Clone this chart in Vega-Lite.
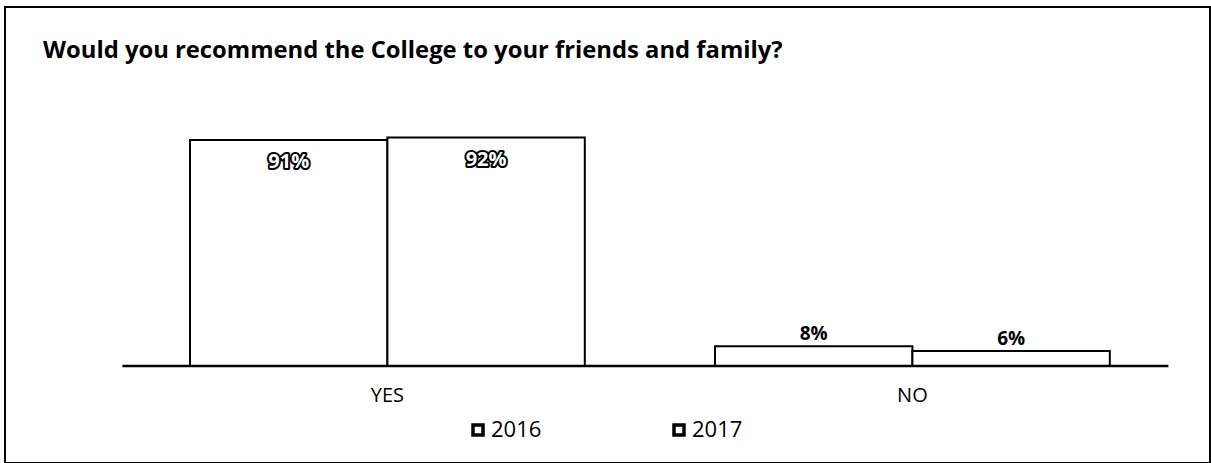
{
  "$schema": "https://vega.github.io/schema/vega-lite/v6.json",
  "autosize": "none",
  "width": 1205,
  "height": 456,
  "padding": {"left": 5, "top": 7, "right": 1, "bottom": 0},
  "background": "white",
  "config": {
    "view": {"stroke": "black", "strokeWidth": 2},
    "font": "Open Sans"
  },
  "title": {
    "text": "Would you recommend the College to your friends and family?",
    "anchor": "start",
    "frame": "group",
    "orient": "top",
    "baseline": "top",
    "offset": -56,
    "dx": 38,
    "font": "Open Sans",
    "fontSize": 23.8,
    "fontWeight": "bold",
    "color": "black"
  },
  "data": {
    "values": [
      {"answer": "YES", "year": "2016", "pct": 0.91},
      {"answer": "YES", "year": "2017", "pct": 0.92},
      {"answer": "NO", "year": "2016", "pct": 0.08},
      {"answer": "NO", "year": "2017", "pct": 0.06}
    ]
  },
  "encoding": {
    "x": {
      "field": "answer",
      "type": "nominal",
      "sort": ["YES", "NO"],
      "scale": {"domain": ["YES", "NO"], "paddingInner": 0.248, "paddingOuter": 0.2716, "align": 0.6487},
      "axis": {
        "title": null,
        "domain": false,
        "ticks": false,
        "labelAngle": 0,
        "labelFont": "Open Sans",
        "labelFontSize": 20,
        "labelColor": "black",
        "labelPadding": 19,
        "offset": -97
      }
    },
    "y": {
      "field": "pct",
      "type": "quantitative",
      "scale": {"domain": [-0.3906, 1.4455], "nice": false, "zero": false},
      "axis": null
    }
  },
  "layer": [
    {
      "mark": {"type": "bar", "fill": "white", "stroke": "black", "strokeWidth": 2},
      "encoding": {
        "xOffset": {"field": "year", "type": "nominal", "scale": {"paddingInner": 0, "paddingOuter": 0}},
        "y2": {"datum": 0},
        "fill": {
          "field": "year",
          "type": "nominal",
          "scale": {"range": ["white", "white"]},
          "legend": {
            "orient": "none",
            "legendX": 462,
            "legendY": 412,
            "direction": "horizontal",
            "title": null,
            "symbolType": "square",
            "symbolSize": 100,
            "symbolStrokeColor": "black",
            "symbolStrokeWidth": 3.5,
            "symbolFillColor": "white",
            "labelFont": "Open Sans",
            "labelFontSize": 22,
            "labelColor": "black",
            "labelOffset": 2,
            "columnPadding": 125
          }
        }
      }
    },
    {
      "transform": [{"filter": "datum.answer == 'YES'"}],
      "mark": {"type": "text", "baseline": "middle", "dy": 22, "fontSize": 20, "fontWeight": "bold", "fill": "black", "stroke": "black", "strokeWidth": 4, "strokeJoin": "round"},
      "encoding": {
        "xOffset": {"field": "year", "type": "nominal"},
        "text": {"field": "pct", "type": "quantitative", "format": ".0%"}
      }
    },
    {
      "transform": [{"filter": "datum.answer == 'YES'"}],
      "mark": {"type": "text", "baseline": "middle", "dy": 22, "fontSize": 20, "fontWeight": "bold", "fill": "white"},
      "encoding": {
        "xOffset": {"field": "year", "type": "nominal"},
        "text": {"field": "pct", "type": "quantitative", "format": ".0%"}
      }
    },
    {
      "transform": [{"filter": "datum.answer == 'NO'"}],
      "mark": {"type": "text", "baseline": "alphabetic", "dy": -6, "fontSize": 19, "fontWeight": "bold", "fill": "black"},
      "encoding": {
        "xOffset": {"field": "year", "type": "nominal"},
        "text": {"field": "pct", "type": "quantitative", "format": ".0%"}
      }
    },
    {
      "data": {"values": [{"start": "YES", "end": "NO", "base": 0}]},
      "mark": {"type": "rule", "stroke": "black", "strokeWidth": 2.5, "xOffset": -265, "x2Offset": 256},
      "encoding": {
        "x": {"field": "start", "type": "nominal"},
        "x2": {"field": "end"},
        "y": {"field": "base", "type": "quantitative"}
      }
    }
  ]
}
